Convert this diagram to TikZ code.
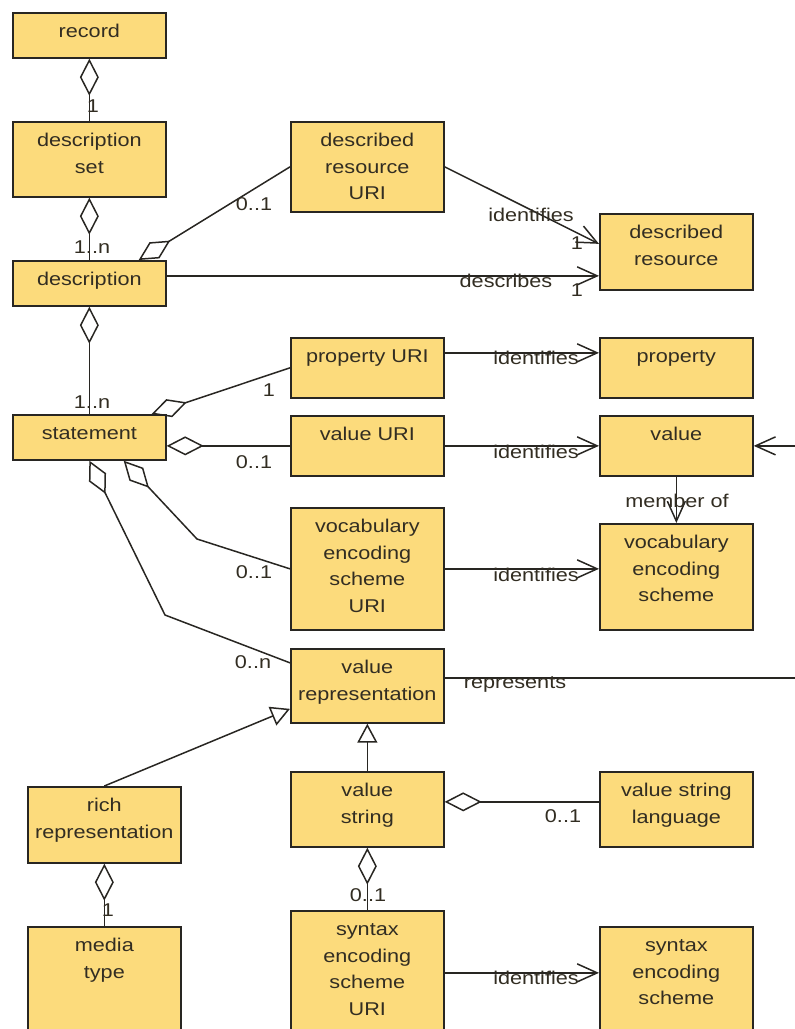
\documentclass[tikz,border=0pt]{standalone}
\usepackage{fontspec}
\setmainfont[FakeStretch=1.17]{Liberation Sans}
\usepackage{tikz}
\usetikzlibrary{arrows.meta}
\usepackage{xcolor}

\definecolor{clsfill}{RGB}{252,219,124}
\definecolor{clsline}{RGB}{40,38,34}
\definecolor{clstext}{RGB}{50,45,34}

% 类框中的文字:顶部对齐
\newcommand{\clstxt}[2]{\parbox[c][#1][t]{153pt}{\centering\rule{0pt}{25pt}#2}}

\begin{document}
\begin{tikzpicture}[x=1pt, y=-1pt]
        % ================= 样式定义 =================
        \tikzset{
            % 类框:黄底黑边
            cls/.style={draw=clsline, line width=1.7pt, fill=clsfill, anchor=north west, inner sep=0pt,
                text=clstext, font=\fontsize{18.5}{26.5}\selectfont},
            % 连线上的文字
            lbl/.style={inner sep=0pt, text=clstext, font=\fontsize{18.5}{22}\selectfont},
            % 普通连线
            edge/.style={line width=1.5pt, clsline},
            % 聚合(空心菱形)
            agg/.style={edge, -{Diamond[open, length=37pt, width=19pt, line width=1.5pt]}},
            % 关联方向(开口箭头)
            nav/.style={edge, -{Straight Barb[length=20pt, width=18pt, line width=1.5pt]}},
            % 泛化(空心三角)
            gen/.style={edge, -{Triangle[open, length=19pt, width=20pt, line width=1.5pt]}}
        }

        \path[use as bounding box] (0,0) rectangle (795,1029);
        \clip (0,0) rectangle (795,1029);

        % ================= 1. 类框 =================

        % 左列
        \node[cls] (record) at (12,12) {\clstxt{45pt}{record}};
        \node[cls] (descset) at (12,121) {\clstxt{75pt}{description\\set}};
        \node[cls] (desc) at (12,260) {\clstxt{45pt}{description}};
        \node[cls] (stmt) at (12,414) {\clstxt{45pt}{statement}};
        \node[cls] (rich) at (27,786) {\clstxt{76pt}{rich\\representation}};
        \node[cls] (media) at (27,926) {\clstxt{120pt}{media\\type}};

        % 中列
        \node[cls] (druri) at (290,121) {\clstxt{90pt}{described\\resource\\URI}};
        \node[cls] (propuri) at (290,337) {\clstxt{60pt}{property URI}};
        \node[cls] (valuri) at (290,415) {\clstxt{60pt}{value URI}};
        \node[cls] (vocuri) at (290,507) {\clstxt{122pt}{vocabulary\\encoding\\scheme\\URI}};
        \node[cls] (valrep) at (290,648) {\clstxt{74pt}{value\\representation}};
        \node[cls] (valstr) at (290,771) {\clstxt{75pt}{value\\string}};
        \node[cls] (synuri) at (290,910) {\clstxt{124pt}{syntax\\encoding\\scheme\\URI}};

        % 右列
        \node[cls] (dres) at (599,213) {\clstxt{76pt}{described\\resource}};
        \node[cls] (prop) at (599,337) {\clstxt{60pt}{property}};
        \node[cls] (value) at (599,415) {\clstxt{60pt}{value}};
        \node[cls] (vocab) at (599,523) {\clstxt{106pt}{vocabulary\\encoding\\scheme}};
        \node[cls] (vslang) at (599,771) {\clstxt{75pt}{value string\\language}};
        \node[cls] (synscheme) at (599,926) {\clstxt{120pt}{syntax\\encoding\\scheme}};

        % 折线的拐点
        \coordinate (vocbend) at (197,539);
        \coordinate (repbend) at (165,615);
        \coordinate (redge) at (795.4,0);

        % ================= 2. 聚合 =================
        \draw[agg] (descset.north) -- (record.south);
        \draw[agg] (desc.north) -- (descset.south);
        \draw[agg] (druri.west) -- ([xshift=-28pt]desc.north east);
        \draw[agg] (stmt.north) -- (desc.south);
        \draw[agg] (propuri.west) -- ([xshift=-15pt]stmt.north east);
        \draw[agg] (valuri.west) -- (valuri.west -| stmt.east);
        \draw[agg] (vocuri.west) -- (vocbend) -- ([xshift=-43pt]stmt.south east);
        \draw[agg] ([yshift=23pt]valrep.west) -- (repbend) -- (stmt.south);
        \draw[agg] ([yshift=7.5pt]valstr.east -| vslang.west) -- ([yshift=7.5pt]valstr.east);
        \draw[agg] (synuri.north) -- (valstr.south);
        \draw[agg] (media.north) -- (rich.south);

        % ================= 3. 关联 =================
        \draw[nav] (druri.east) -- ([yshift=8pt]dres.west);
        \draw[nav] ([yshift=7.5pt]desc.east) -- ([yshift=7.5pt]desc.east -| dres.west);
        \draw[nav] ([yshift=15pt]propuri.east) -- ([yshift=15pt]propuri.east -| prop.west);
        \draw[nav] (valuri.east) -- (valuri.east -| value.west);
        \draw[nav] (vocuri.east) -- (vocuri.east -| vocab.west);
        \draw[nav] (value.south) -- (vocab.north);
        \draw[nav] ([yshift=8pt]valrep.east) -- ([yshift=8pt]valrep.east -| redge)
            -- (value.east -| redge) -- (value.east);
        \draw[nav] (synuri.east) -- (synuri.east -| synscheme.west);

        % ================= 4. 泛化 =================
        \draw[gen] (valstr.north) -- (valrep.south);
        \draw[gen] (rich.north) -- ([yshift=-23pt]valrep.west);

        % ================= 5. 多重性与角色 =================
        \node[lbl] (m-set) at (93,106) {1};
        \node[lbl] (m-desc) at (92,247) {1..n};
        \node[lbl] (m-druri) at (254,204) {0..1};
        \node[lbl] (r-druri) at (531,215) {identifies};
        \node[lbl] (m-dres1) at (577,243) {1};
        \node[lbl] (r-desc) at (506,281) {describes};
        \node[lbl] (m-dres2) at (577,290) {1};
        \node[lbl] (m-stmt) at (92,402) {1..n};
        \node[lbl] (m-propuri) at (269,390) {1};
        \node[lbl] (m-valuri) at (254,462) {0..1};
        \node[lbl] (m-vocuri) at (254,572) {0..1};
        \node[lbl] (m-valrep) at (253,662) {0..n};
        \node[lbl] (r-prop) at (536,358) {identifies};
        \node[lbl] (r-value) at (536,452) {identifies};
        \node[lbl] (r-member) at (677,501) {member of};
        \node[lbl] (r-vocab) at (536,575) {identifies};
        \node[lbl] (r-rep) at (515,684) {represents};
        \node[lbl] (m-vslang) at (563,816) {0..1};
        \node[lbl] (m-synuri) at (368,895) {0..1};
        \node[lbl] (m-media) at (108,910) {1};
        \node[lbl] (r-syn) at (536,978) {identifies};

    \end{tikzpicture}
\end{document}
